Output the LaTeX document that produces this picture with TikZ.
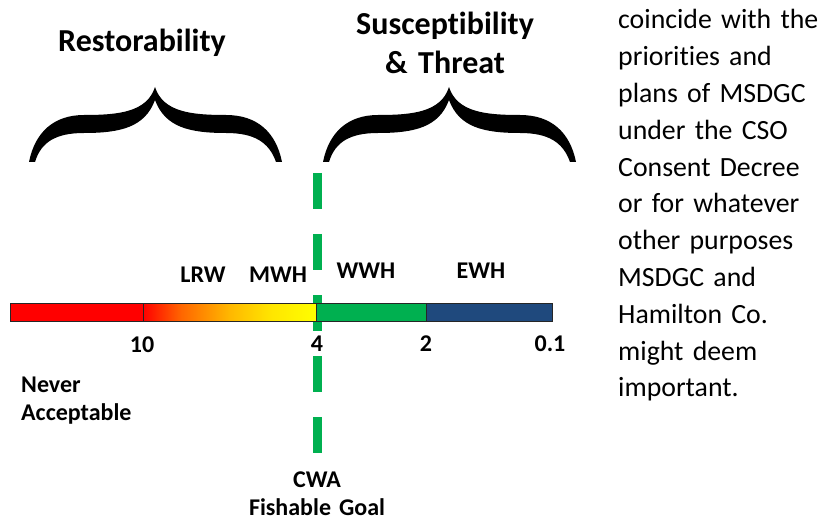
\documentclass[tikz,border=0pt]{standalone}
\usepackage{fontspec}
\setmainfont{Carlito}[Ligatures=NoCommon]
\usetikzlibrary{positioning}

\definecolor{fishgreen}{HTML}{00B050}
\definecolor{exblue}{HTML}{1F497D}
\pgfdeclarehorizontalshading{lrwmwh}{100bp}{rgb(0bp)=(1,0,0); rgb(25bp)=(1,0,0); rgb(36bp)=(1,0.4,0); rgb(50bp)=(1,0.72,0); rgb(62bp)=(1,0.9,0); rgb(75bp)=(1,1,0); rgb(100bp)=(1,1,0)}

\tikzset{
  heading/.style={font=\fontsize{32}{39}\selectfont\bfseries, inner sep=0pt, text width=220pt, align=center},
  tag/.style={font=\fontsize{24}{28}\selectfont\bfseries, inner sep=0pt},
  body/.style={font=\fontsize{27.8}{36.8}\selectfont, inner sep=0pt, text width=210pt, align=left},
  barline/.style={draw=black!85, line width=1pt},
  goal/.style={draw=fishgreen, line width=9pt, dash pattern=on 36pt off 25pt},
  curly/.pic={
    \fill (0,0) .. controls (6,-30) and (25,-47) .. (55,-47)
      .. controls (90,-47) and (118,-50) .. (126,-75)
      .. controls (134,-50) and (162,-47) .. (197,-47)
      .. controls (228,-47) and (247,-30) .. (253,0)
      -- (247,0) .. controls (240,-20) and (225,-29) .. (197,-29)
      .. controls (160,-29) and (136,-35) .. (126,-62)
      .. controls (116,-35) and (92,-29) .. (55,-29)
      .. controls (27,-29) and (12,-20) .. (6,0) -- cycle;
  }
}

\begin{document}
\begin{tikzpicture}[x=1pt, y=-1pt]
  \useasboundingbox (0,0) rectangle (824,521);

  \node[heading, anchor=base] (restore) at (142,52) {Restorability};
  \node[heading, anchor=base] (suscept) at (445,35) {Susceptibility\\ \& Threat};
  \pic at (29,162) {curly};
  \pic at (323,162) {curly};

  \coordinate (goaltop) at (317,173);
  \coordinate (goalbot) at (317,456);
  \draw[goal] (goaltop) -- (goalbot);

  \fill[red] (10,303) rectangle (143,321);
  \shade[shading=lrwmwh] (143,303) rectangle (316,321);
  \fill[fishgreen] (316,303) rectangle (426,321);
  \fill[exblue] (426,303) rectangle (552,321);
  \draw[barline] (10,303) rectangle (552,321);
  \draw[barline] (143,303) -- (143,321);
  \draw[barline] (316,303) -- (316,321);
  \draw[barline] (426,303) -- (426,321);

  \node[tag, anchor=base] (lrw) at (203,282) {LRW};
  \node[tag, anchor=base] (mwh) at (278,282) {MWH};
  \node[tag, anchor=base] (wwh) at (366,279) {WWH};
  \node[tag, anchor=base] (ewh) at (481,279) {EWH};

  \node[tag, anchor=base] (ten) at (142,352) {10};
  \node[tag, anchor=base] (four) at (317,351) {4};
  \node[tag, anchor=base] (two) at (426,351) {2};
  \node[tag, anchor=base] (tenth) at (550,351) {0.1};

  \node[tag, anchor=base west, text width=150pt, align=left, font=\fontsize{24}{28}\selectfont\bfseries] (never) at (21,392) {Never\\ Acceptable};
  \node[tag, anchor=base, text width=170pt, align=center, font=\fontsize{24}{28}\selectfont\bfseries] (cwa) at (317,487) {CWA\\ Fishable Goal};

  \node[body, anchor=base west] (remark) at (618,29) {coincide with the\\ priorities and\\ plans of MSDGC\\ under the CSO\\ Consent Decree\\ or for whatever\\ other purposes\\ MSDGC and\\ Hamilton Co.\\ might deem\\ important.};
\end{tikzpicture}
\end{document}
